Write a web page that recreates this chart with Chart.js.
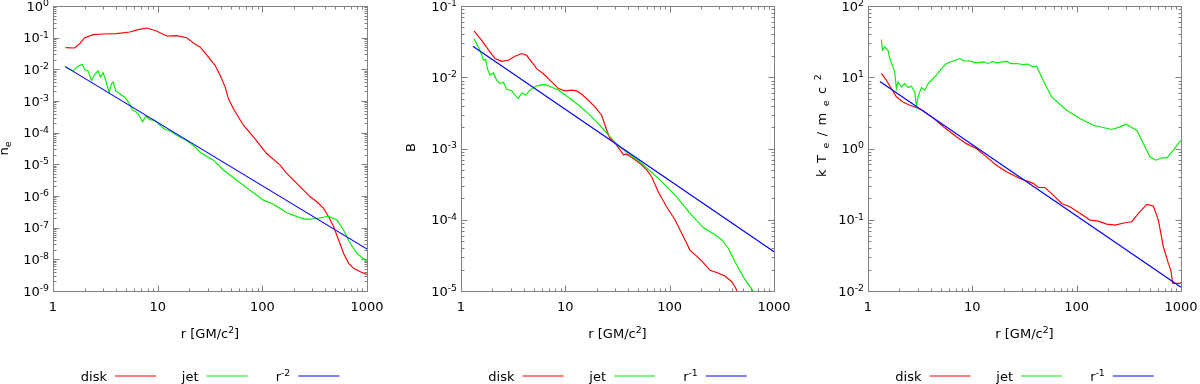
<!DOCTYPE html>
<html>
<head>
<meta charset="utf-8">
<script src="https://cdn.jsdelivr.net/npm/chart.js@4.4.1/dist/chart.umd.min.js"></script>
<style>
html,body{margin:0;padding:0;background:#ffffff;}
#wrap{position:relative;width:1200px;height:384px;overflow:hidden;}
#wrap canvas{position:absolute;top:0;}
</style>
</head>
<body>
<div id="wrap">
<canvas id="c1" width="400" height="384" style="left:0px"></canvas>
<canvas id="c2" width="400" height="384" style="left:400px"></canvas>
<canvas id="c3" width="400" height="384" style="left:800px"></canvas>
</div>
<script>
// ---------------- data ----------------
const xTickValues = [1, 10, 100, 1000];
const xTickLabels = ['1', '10', '100', '1000'];
const xTitle = 'r [GM/c^2]';
const seriesNames = ['disk', 'jet'];

// Panel 1: electron density n_e
const neYTickExps = [0, -1, -2, -3, -4, -5, -6, -7, -8, -9];
const neR_disk = [1.32,1.61,1.80,2.01,2.42,3.01,4.04,5.42,6.52,7.83,9.75,12.2,15.2,18.9,23.6,25.4,29.4,35.3,39.5,44.1,47.4,52.8,65.9,82.2,110,148,171,230,287,332,385,430,480,536,598,668,745,863,1000];
const ne_disk = [4.85e-2,4.73e-2,6.49e-2,0.100,0.125,0.131,0.134,0.151,0.180,0.202,0.163,0.113,0.116,0.100,5.74e-2,5.09e-2,2.85e-2,1.34e-2,6.50e-3,2.79e-3,1.19e-3,5.78e-4,1.72e-4,7.38e-5,2.20e-5,9.42e-6,5.14e-6,1.95e-6,9.44e-7,6.56e-7,4.05e-7,2.21e-7,1.07e-7,4.06e-8,1.54e-8,7.45e-9,5.18e-9,4.06e-9,3.35e-9];
const neR_jet = [1.32,1.556,1.738,1.910,2.009,2.163,2.328,2.506,2.698,2.838,3.013,3.192,3.436,3.622,3.758,3.981,4.345,4.853,5.117,5.420,5.754,6.194,6.653,7.161,7.709,8.433,9.419,10.50,11.72,13.09,15.17,17.58,20.37,23.60,25.35,34.04,42.46,57.02,76.38,102.6,127.6,171.4,230.1,266.7,332.7,429.5,516.4,598.4,691.8,801.7,1000];
const ne_jet = [1.16e-2,8.91e-3,1.26e-2,1.45e-2,9.77e-3,8.91e-3,4.47e-3,6.92e-3,8.91e-3,5.75e-3,7.76e-3,4.47e-3,1.82e-3,3.55e-3,3.98e-3,2.09e-3,1.70e-3,1.29e-3,1.05e-3,7.94e-4,5.13e-4,4.57e-4,3.55e-4,2.19e-4,3.31e-4,2.57e-4,2.45e-4,1.74e-4,1.26e-4,1.15e-4,8.32e-5,6.46e-5,4.79e-5,3.16e-5,2.40e-5,1.35e-5,6.61e-6,3.16e-6,1.51e-6,7.41e-7,5.50e-7,2.95e-7,2.04e-7,1.82e-7,1.95e-7,2.29e-7,1.74e-7,8.32e-8,3.16e-8,1.55e-8,8.32e-9];
const neR_fit = [1.3, 1000];
const ne_fit = [1.24e-2, 2.1e-8];

// Panel 2: magnetic field B
const bYTickExps = [-1, -2, -3, -4, -5];
const bR_disk = [1.334,1.578,1.828,2.118,2.455,2.844,3.296,3.819,4.256,4.753,5.309,6.152,7.396,8.570,9.931,11.51,12.85,14.35,16.60,19.23,22.28,24.89,26.79,29.92,33.42,35.97,38.72,44.87,52.00,60.26,67.30,77.80,93.76,112.5,130.3,145.5,156.7,181.6,209.9,243.8,282.5,338.8,393.6,422.7,445.7,501.2];
const b_disk = [4.47e-2,3.30e-2,2.44e-2,1.83e-2,1.67e-2,1.73e-2,1.97e-2,2.15e-2,2.03e-2,1.64e-2,1.32e-2,1.12e-2,8.61e-3,6.93e-3,6.43e-3,6.58e-3,6.43e-3,5.78e-3,4.76e-3,3.84e-3,2.93e-3,1.82e-3,1.38e-3,1.20e-3,9.55e-4,8.13e-4,8.32e-4,7.24e-4,6.17e-4,5.01e-4,3.98e-4,2.45e-4,1.51e-4,1.00e-4,6.46e-5,4.68e-5,3.72e-5,3.09e-5,2.51e-5,1.95e-5,1.82e-5,1.62e-5,1.35e-5,1.15e-5,9.77e-6,5.62e-6];
const bR_jet = [1.334,1.413,1.521,1.637,1.722,1.791,1.897,2.042,2.198,2.366,2.547,2.742,3.062,3.296,3.540,3.819,4.169,4.581,5.117,5.715,6.383,7.396,8.570,10.69,13.34,16.63,20.75,25.82,29.92,33.42,52.00,80.72,116.7,156.7,209.9,271.6,315.5,364.8,422.7,508.2,625.2,707.9];
const b_jet = [3.48e-2,2.95e-2,2.40e-2,1.74e-2,1.78e-2,1.32e-2,1.07e-2,1.15e-2,9.12e-3,8.13e-3,8.51e-3,6.76e-3,6.46e-3,5.62e-3,5.01e-3,6.03e-3,5.62e-3,6.61e-3,7.41e-3,7.76e-3,7.94e-3,7.24e-3,6.61e-3,5.25e-3,4.07e-3,3.09e-3,2.24e-3,1.55e-3,1.23e-3,1.05e-3,6.46e-4,3.63e-4,2.09e-4,1.23e-4,7.76e-5,6.17e-5,5.25e-5,3.98e-5,2.57e-5,1.58e-5,1.02e-5,7.59e-6];
const bR_fit = [1.3, 1000];
const b_fit = [2.73e-2, 3.55e-5];

// Panel 3: electron temperature kTe/mec^2
const tYTickExps = [2, 1, 0, -1, -2];
const tR_disk = [1.343,1.500,1.675,1.871,2.168,2.512,2.911,3.373,4.207,5.248,7.031,8.770,10.94,13.65,17.02,21.23,28.51,38.37,42.85,49.66,59.70,71.78,86.10,107.6,134.3,161.4,194.1,233.3,291.1,337.3,390.8,469.9,543.3,606.7,677.6,756.8,798.0,833.7,977.2,1000];
const t_disk = [11.35,9.08,6.93,5.30,4.51,4.05,3.76,3.39,2.69,2.04,1.46,1.17,1.00,0.764,0.583,0.471,0.380,0.324,0.284,0.284,0.222,0.169,0.152,0.123,0.0989,0.0957,0.0869,0.0841,0.0908,0.0938,0.123,0.164,0.156,0.0989,0.0418,0.0244,0.0197,0.0128,0.0128,0.0132];
const tR_jet = [1.343,1.374,1.445,1.556,1.614,1.714,1.803,1.871,1.941,2.089,2.249,2.421,2.606,2.805,2.911,3.020,3.251,3.499,3.767,4.055,4.529,5.058,5.649,6.546,7.586,8.3,9.462,10.8,12.71,14.2,15.5,17.06,19.0,21.28,23.5,26.55,30.5,34.0,38.37,41.30,47.75,57.54,80.17,107.6,144.2,216.8,260.6,297.2,337.3,376.7,436.5,504.7,576.8,654.6,731.1,845.3,1000];
const t_jet = [33.7,23.9,26.6,23.9,18.3,14.7,11.9,6.93,8.59,7.31,8.15,7.16,7.48,6.22,3.92,5.30,7.16,6.58,8.15,9.08,10.7,13.2,15.6,16.9,18.3,17.0,16.9,15.9,16.4,15.6,16.6,15.9,16.3,16.7,15.5,15.6,15.1,15.3,14.0,14.3,9.08,5.30,3.44,2.64,2.12,1.85,2.01,2.19,1.97,1.81,1.17,0.764,0.685,0.740,0.740,0.948,1.31];
const tR_fit = [1.3, 1000];
const t_fit = [8.69, 0.0113];

// ---------------- styling / helpers ----------------
const FONT = '"DejaVu Sans", Verdana, sans-serif';
const FS = 13;
const AXIS_COLOR = '#808080';
const TEXT_COLOR = '#000000';
const COLORS = ['#ff0000', '#00ee00', '#0000ff'];

function parseRich(s) {
  const parts = []; let buf = ''; let i = 0;
  while (i < s.length) {
    const c = s[i];
    if (c === '^' || c === '_') {
      if (buf) { parts.push({ t: buf }); buf = ''; }
      let t;
      if (s[i + 1] === '{') { const j = s.indexOf('}', i + 2); t = s.slice(i + 2, j); i = j + 1; }
      else { t = s[i + 1]; i += 2; }
      parts.push({ t: t, s: c === '^' ? 'sup' : 'sub' });
    } else { buf += c; i++; }
  }
  if (buf) parts.push({ t: buf });
  return parts;
}
function partFont(p, size) { return ((p.s ? size * 0.72 : size).toFixed(2)) + 'px ' + FONT; }
function richWidth(ctx, parts, size, ls) {
  let w = 0, n = 0;
  for (const p of parts) {
    ctx.font = partFont(p, size);
    for (const ch of p.t) { w += ctx.measureText(ch).width; n++; }
  }
  return w + (n - 1) * (ls || 0);
}
function drawRich(ctx, str, x, y, align, size, ls) {
  size = size || FS; ls = ls || 0;
  const parts = parseRich(str);
  const w = richWidth(ctx, parts, size, ls);
  let cx = align === 'right' ? x - w : (align === 'center' ? x - w / 2 : x);
  ctx.textAlign = 'left'; ctx.textBaseline = 'alphabetic';
  for (const p of parts) {
    ctx.font = partFont(p, size);
    const dy = p.s === 'sup' ? -size * 0.37 : (p.s === 'sub' ? size * 0.26 : 0);
    if (ls) {
      for (const ch of p.t) { ctx.fillText(ch, cx, y + dy); cx += ctx.measureText(ch).width + ls; }
    } else {
      ctx.fillText(p.t, cx, y + dy);
      cx += ctx.measureText(p.t).width;
    }
  }
}
function logTicks(min, max) {
  const out = [];
  const e0 = Math.floor(Math.log10(min) + 1e-9), e1 = Math.ceil(Math.log10(max) - 1e-9);
  for (let e = e0; e <= e1; e++) {
    for (let m = 1; m <= 9; m++) {
      const v = m * Math.pow(10, e);
      if (v >= min * 0.999999 && v <= max * 1.000001) out.push({ v: v, major: m === 1 });
    }
  }
  return out;
}
function pts(rs, vs) { return rs.map((r, i) => ({ x: r, y: vs[i] })); }

const gpPlugin = {
  id: 'gp',
  beforeDatasetsDraw(chart, args, o) {
    const ctx = chart.ctx, a = chart.chartArea, xs = chart.scales.x, ys = chart.scales.y;
    ctx.save();
    ctx.strokeStyle = AXIS_COLOR; ctx.lineWidth = 1;
    const L = Math.round(a.left) + 0.5, R = Math.round(a.right) + 0.5, T = Math.round(a.top) + 0.5, B = Math.round(a.bottom) + 0.5;
    ctx.beginPath();
    ctx.rect(L, T, R - L, B - T);
    for (const t of logTicks(xs.min, xs.max)) {
      const px = Math.round(xs.getPixelForValue(t.v)) + 0.5, len = t.major ? 6 : 3;
      ctx.moveTo(px, B); ctx.lineTo(px, B - len);
      ctx.moveTo(px, T); ctx.lineTo(px, T + len);
    }
    for (const t of logTicks(ys.min, ys.max)) {
      const py = Math.round(ys.getPixelForValue(t.v)) + 0.5, len = t.major ? 6 : 3;
      ctx.moveTo(L, py); ctx.lineTo(L + len, py);
      ctx.moveTo(R, py); ctx.lineTo(R - len, py);
    }
    ctx.stroke();
    ctx.restore();
  },
  afterDraw(chart, args, o) {
    const ctx = chart.ctx, a = chart.chartArea, xs = chart.scales.x, ys = chart.scales.y;
    ctx.save();
    ctx.fillStyle = TEXT_COLOR;
    xTickValues.forEach((v, i) => {
      drawRich(ctx, xTickLabels[i], xs.getPixelForValue(v), a.bottom + 20, 'center');
    });
    o.yExps.forEach(e => {
      const py = ys.getPixelForValue(Math.pow(10, e));
      drawRich(ctx, '10^{' + e + '}', a.left - 4, py + 4.7, 'right');
    });
    const cx = (a.left + a.right) / 2;
    drawRich(ctx, xTitle, cx, 338, 'center');
    // rotated y title, drawn upward from its lower end
    ctx.save();
    ctx.translate(o.yTitleX, o.yTitleBottom);
    ctx.rotate(-Math.PI / 2);
    drawRich(ctx, o.yTitle, 0, 0, 'left', FS, o.yTitleLS || 0);
    ctx.restore();
    // legend (gnuplot style: text, then sample line)
    const offs = [-95, -3.5, 88.3];
    chart.data.datasets.forEach((ds, i) => {
      const x0 = cx + offs[i];
      drawRich(ctx, ds.label, x0 - 8, 380.5, 'right');
      ctx.strokeStyle = ds.borderColor; ctx.lineWidth = 1.2;
      ctx.beginPath(); ctx.moveTo(x0, 376); ctx.lineTo(x0 + 41, 376); ctx.stroke();
    });
    ctx.restore();
  }
};

function makeChart(id, pad, yMin, yMax, yExps, yTitle, titleOpts, series, fitLabel) {
  const datasets = series.map((s, i) => ({
    label: i < 2 ? seriesNames[i] : fitLabel,
    data: pts(s[0], s[1]),
    borderColor: COLORS[i],
    backgroundColor: COLORS[i],
    borderWidth: 1.15,
    pointRadius: 0,
    showLine: true,
    tension: 0,
    fill: false,
    order: 3 - i
  }));
  return new Chart(document.getElementById(id), {
    type: 'scatter',
    data: { datasets: datasets },
    options: {
      responsive: false, animation: false, devicePixelRatio: 1,
      layout: { padding: pad },
      events: [],
      plugins: {
        legend: { display: false }, tooltip: { enabled: false },
        gp: Object.assign({ yExps: yExps, yTitle: yTitle }, titleOpts)
      },
      scales: {
        x: { type: 'logarithmic', min: 1, max: 1000, display: false, bounds: 'data' },
        y: { type: 'logarithmic', min: yMin, max: yMax, display: false, bounds: 'data' }
      }
    },
    plugins: [gpPlugin]
  });
}

Chart.defaults.font.family = FONT;

makeChart('c1', { left: 53, right: 33, top: 6, bottom: 93 }, 1e-9, 1, neYTickExps, 'n_e',
  { yTitleX: 8, yTitleBottom: 155.5 },
  [[neR_disk, ne_disk], [neR_jet, ne_jet], [neR_fit, ne_fit]], 'r^{-2}');
makeChart('c2', { left: 61, right: 26, top: 6, bottom: 93 }, 1e-5, 1e-1, bYTickExps, 'B',
  { yTitleX: 15, yTitleBottom: 152 },
  [[bR_disk, b_disk], [bR_jet, b_jet], [bR_fit, b_fit]], 'r^{-1}');
makeChart('c3', { left: 68, right: 19, top: 6, bottom: 93 }, 1e-2, 1e2, tYTickExps, 'kT_e/m_ec^2',
  { yTitleX: 26, yTitleBottom: 177, yTitleLS: 6.5 },
  [[tR_disk, t_disk], [tR_jet, t_jet], [tR_fit, t_fit]], 'r^{-1}');
</script>
</body>
</html>
